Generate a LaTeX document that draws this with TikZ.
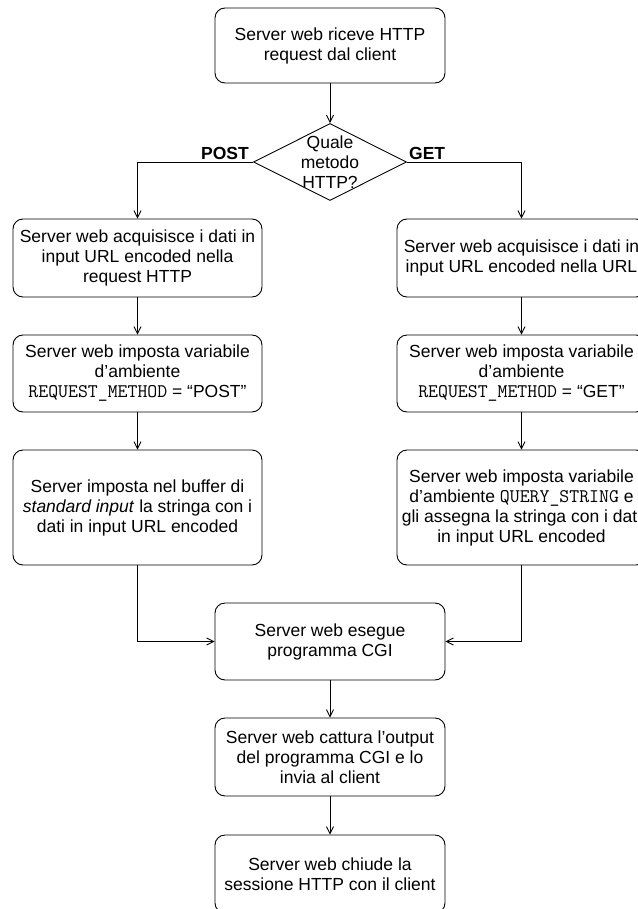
\documentclass[tikz,border=0pt]{standalone}
\usepackage{fontspec}
\setmainfont{Liberation Sans}
\setmonofont{Latin Modern Mono}[Scale=1.1]
\usetikzlibrary{arrows.meta,shapes.geometric}
\begin{document}
\begin{tikzpicture}[x=1pt,y=-1pt,
  font=\fontsize{17.5}{20}\selectfont,
  box/.style={draw, rounded corners=10pt, line width=0.9pt, align=center, inner sep=2pt},
  cbox/.style={box, minimum width=230pt, minimum height=77pt},
  sbox/.style={box, minimum width=249pt, minimum height=77pt},
  conn/.style={line width=0.9pt, -{Straight Barb[length=7pt,width=7pt]}},
  lbl/.style={font=\fontsize{17.5}{20}\selectfont\bfseries, inner sep=2pt}
]
\useasboundingbox (0,0) rectangle (637,909);

\node[cbox, minimum height=75pt] (top) at (330,45.5) {Server web riceve HTTP\\request dal client};
\node[draw, diamond, line width=0.9pt, minimum width=153pt, minimum height=77pt, inner sep=0pt] (dia) at (330,162) {};
\node[align=center] at (dia.center) {Quale\\metodo\\HTTP?};

\node[sbox, minimum height=78pt] (l1) at (137.5,258) {Server web acquisisce i dati in\\input URL encoded nella\\request HTTP};
\node[sbox] (l2) at (137.5,373.5) {Server web imposta variabile\\d’ambiente\\\texttt{REQUEST\_METHOD} = “POST”};
\node[sbox, minimum height=115pt] (l3) at (137.5,507.5) {Server imposta nel buffer di\\\textit{standard input} la stringa con i\\dati in input URL encoded};

\node[sbox, minimum height=78pt] (r1) at (521.5,258) {Server web acquisisce i dati in\\input URL encoded nella URL};
\node[sbox] (r2) at (521.5,373.5) {Server web imposta variabile\\d’ambiente\\\texttt{REQUEST\_METHOD} = “GET”};
\node[sbox, minimum height=115pt] (r3) at (521.5,507.5) {Server web imposta variabile\\d’ambiente \texttt{QUERY\_STRING} e\\gli assegna la stringa con i dati\\in input URL encoded};

\node[cbox] (cgi) at (330,641.5) {Server web esegue\\programma CGI};
\node[cbox, minimum height=78pt] (cat) at (330,757) {Server web cattura l’output\\del programma CGI e lo\\invia al client};
\node[cbox, minimum height=78pt] (chi) at (330,874) {Server web chiude la\\sessione HTTP con il client};

\draw[conn] (top) -- (dia);
\draw[conn] (dia.west) -| (l1.north);
\draw[conn] (dia.east) -| (r1.north);
\node[lbl, anchor=south east] (post) at ([xshift=-2pt]dia.west) {POST};
\node[lbl, anchor=south west] (get) at ([xshift=0pt]dia.east) {GET};

\draw[conn] (l1) -- (l2);
\draw[conn] (l2) -- (l3);
\draw[conn] (r1) -- (r2);
\draw[conn] (r2) -- (r3);
\draw[conn] (l3.south) |- (cgi.west);
\draw[conn] (r3.south) |- (cgi.east);
\draw[conn] (cgi) -- (cat);
\draw[conn] (cat) -- (chi);
\end{tikzpicture}
\end{document}
